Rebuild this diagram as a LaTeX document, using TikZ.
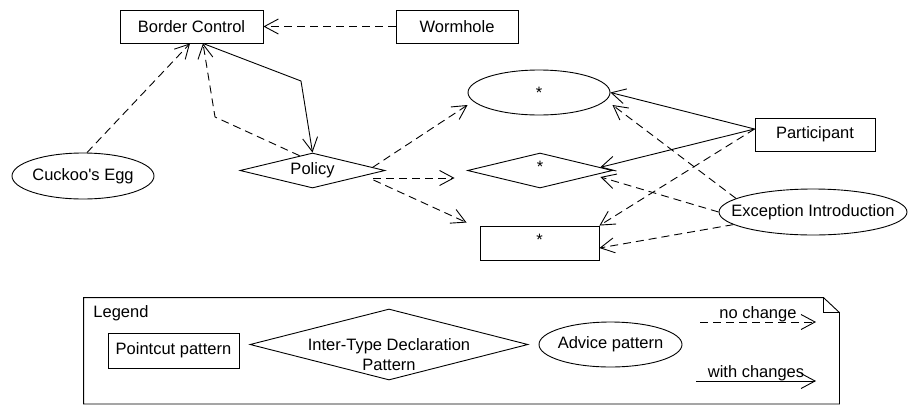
\documentclass[tikz,border=0pt]{standalone}
\usepackage{fontspec}
\setmainfont{Liberation Sans}
\usetikzlibrary{arrows.meta,shapes.geometric}

\newcommand{\zerow}[1]{\makebox[0pt]{#1}}
\newcommand{\highstar}{\raisebox{3.5pt}[\height][\depth]{*}}

\begin{document}
\begin{tikzpicture}[
    x = 1pt, y = -1pt, % one unit per pixel, y grows downwards
    > = {Straight Barb[length=14pt,width=15pt]}, % open arrow head
    line width = 0.9pt, % line style
    font = \fontsize{16.5}{20}\selectfont
    ]

    \tikzset{
    pointcut/.style = {draw, rectangle, inner sep=2pt, minimum width=#1, minimum height=33pt},
    itd/.style 2 args = {draw, diamond, aspect=4, inner sep=0pt, minimum width=#1, minimum height=#2},
    advice/.style 2 args = {draw, ellipse, inner sep=0pt, minimum width=#1, minimum height=#2},
    nochange/.style = {->, dash pattern=on 8pt off 5pt},
    withchange/.style = {->}
    }
    \useasboundingbox (0,0) rectangle (910,405);

    \node[pointcut=143pt] (bc) at (191.5,26.5) {Border Control};
    \node[pointcut=122pt] (wh) at (457,26.5) {Wormhole};
    \node[advice={142pt}{46pt}] (egg) at (83,176) {\zerow{Cuckoo\textquotesingle s Egg}};
    \node[itd={145pt}{35pt}] (pol) at (312.5,170.5) {Policy};
    \node[advice={142pt}{45pt}] (anyadv) at (539,92.5) {*};
    \node[itd={145pt}{35pt}] (anyitd) at (540,170.5) {\highstar};
    \node[pointcut=119pt, minimum height=34pt] (anypc) at (539.5,243) {\highstar};
    \node[pointcut=120pt] (part) at (815,134.5) {Participant};
    \node[advice={188pt}{46pt}] (exc) at (813,212) {\zerow{Exception Introduction}};

    \coordinate (kink1) at (301,81);
    \coordinate (kink2) at (215,117);

    \draw[nochange] (wh.west) -- (bc.east);
    \draw[nochange] ([xshift=4pt]egg.north) -- ([xshift=-1.5pt]bc.south);
    \draw[withchange] ([xshift=11.5pt]bc.south) -- (kink1) -- (pol.north);
    \draw[nochange] (pol.131) -- (kink2) -- ([xshift=11.5pt]bc.south);

    \draw[nochange] (pol.3) -- ([yshift=-12.5pt]anyadv.west);
    \draw[nochange] ([xshift=-12pt,yshift=-7.5pt]pol.east) -- ([xshift=-12.5pt,yshift=-7.5pt]anyitd.west);
    \draw[nochange] ([xshift=-12pt,yshift=-9.5pt]pol.east) -- ([xshift=-13pt,yshift=3pt]anypc.north west);

    \draw[withchange] ([yshift=5.5pt]part.west) -- (anyadv.east);
    \draw[withchange] ([yshift=5.5pt]part.west) -- (anyitd.3);
    \draw[nochange] ([yshift=5.5pt]part.west) -- (anypc.north east);

    \draw[nochange] (exc.170) -- ([xshift=2pt,yshift=-12.5pt]anyadv.east);
    \draw[nochange] (exc.west) -- ([xshift=-12.5pt,yshift=-6.5pt]anyitd.east);
    \draw[nochange] (exc.189) -- ([yshift=-5pt]anypc.east);

    % legend note
    \node[minimum width=755pt, minimum height=105.5pt, inner sep=0pt] (legend) at (461.5,350.75) {};
    \draw (legend.north west) -- ([xshift=-16pt]legend.north east) -- ([yshift=-15pt]legend.north east)
      -- (legend.south east) -- (legend.south west) -- cycle;
    \draw ([xshift=-16pt]legend.north east) |- ([yshift=-15pt]legend.north east);
    \node[anchor=west, inner sep=0pt] (legendtitle) at (93,313) {Legend};

    \node[pointcut=131pt, minimum height=35pt] (pcpattern) at (173.5,350.5) {Pointcut pattern};
    \node[itd={278pt}{71pt}] (itdpattern) at (389,344.5) {};
    \node[align=center] (itdtext) at (389,355) {Inter-Type Declaration\\Pattern};
    \node[advice={143pt}{45pt}] (advpattern) at (610.5,344.5) {\zerow{Advice pattern}};

    \coordinate (nc0) at (700,322);
    \coordinate (nc1) at (816,322);
    \draw[nochange] (nc0) -- node[anchor=base, yshift=4pt] {no change} (nc1);
    \coordinate (wc0) at (696,381);
    \coordinate (wc1) at (816,381);
    \draw[withchange] (wc0) -- node[anchor=base, yshift=4pt] {with changes} (wc1);
\end{tikzpicture}
\end{document}
